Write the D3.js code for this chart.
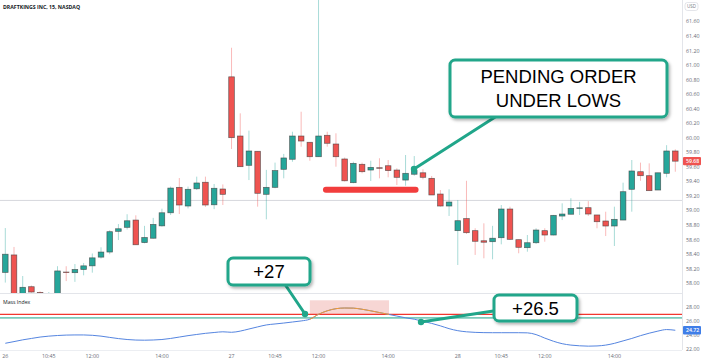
<!DOCTYPE html>
<html>
<head>
<meta charset="utf-8">
<script src="https://cdn.jsdelivr.net/npm/d3@7"></script>
<style>
  body { margin: 0; background: #fff; }
  svg { display: block; font-family: "Open Sans", "Noto Sans", sans-serif; }
</style>
</head>
<body>
<div id="vis"></div>
<script>
const width = 701;
const height = 362;
const plotRight = 682;
const mainBottom = 293;
const massBottom = 350;

// 15 min candles, 26 per session (26, 27, 28)
const opens = [58.15, 58.39, 57.80, 57.953, 57.875, 57.78, 57.80, 58.155, 58.146, 58.19,
  58.24, 58.36, 58.43, 58.715, 58.77, 58.87, 58.56, 58.62, 58.79, 58.97,
  59.32, 59.063, 59.30, 59.39, 59.08, 59.297, 60.84, 60.026, 59.623, 59.816,
  59.224, 59.32, 59.568, 59.706, 60.026, 59.94, 59.741, 60.036, 59.916, 59.71,
  59.384, 59.637, 59.558, 59.59, 59.617, 59.558, 59.42, 59.50, 59.52, 59.444,
  59.228, 59.063, 58.724, 58.89, 58.724, 58.585, 58.572, 58.627, 59.022, 58.60,
  58.49, 58.558, 58.724, 58.664, 58.925, 58.95, 59.035, 59.04, 58.94, 58.857,
  58.788, 58.87, 59.293, 59.535, 59.48, 59.283, 59.513, 59.82];
const highs = [58.76, 58.50, 58.10, 57.97, 57.89, 57.88, 58.235, 58.235, 58.265, 58.28,
  58.41, 58.495, 58.73, 58.815, 58.95, 58.935, 58.79, 58.90, 59.026, 59.33,
  59.448, 59.33, 59.467, 59.467, 59.366, 59.36, 61.24, 60.338, 60.10, 59.816,
  59.56, 59.66, 59.78, 60.085, 60.36, 59.94, 62.0, 60.085, 60.063, 59.73,
  59.672, 59.66, 59.686, 59.72, 59.696, 59.582, 59.765, 59.75, 59.568, 59.476,
  59.283, 59.293, 59.146, 59.41, 58.757, 58.825, 58.79, 59.077, 59.054, 58.60,
  58.664, 58.757, 58.757, 58.94, 59.10, 59.17, 59.12, 59.13, 58.94, 58.985,
  59.054, 59.384, 59.696, 59.66, 59.65, 59.52, 59.90, 59.843];
const lows = [58.01, 57.78, 57.76, 57.87, 57.74, 57.72, 57.78, 58.03, 58.02, 58.11,
  58.146, 58.34, 58.40, 58.595, 58.74, 58.53, 58.55, 58.615, 58.78, 58.94,
  58.953, 59.03, 59.283, 59.05, 59.02, 59.077, 59.847, 59.604, 59.42, 59.054,
  58.88, 59.307, 59.444, 59.672, 59.879, 59.686, 59.741, 59.879, 59.604, 59.40,
  59.376, 59.513, 59.407, 59.444, 59.458, 59.352, 59.342, 59.48, 59.43, 59.215,
  59.054, 58.926, 58.252, 58.678, 58.39, 58.344, 58.33, 58.536, 58.596, 58.413,
  58.435, 58.54, 58.572, 58.66, 58.87, 58.95, 58.94, 58.926, 58.757, 58.65,
  58.513, 58.87, 58.985, 59.41, 59.274, 59.283, 59.458, 59.535];
const closes = [58.40, 57.82, 57.945, 57.88, 57.78, 57.82, 58.17, 58.15, 58.19, 58.24,
  58.35, 58.43, 58.71, 58.75, 58.86, 58.53, 58.63, 58.81, 58.97, 59.31,
  59.077, 59.293, 59.38, 59.077, 59.307, 59.224, 60.003, 59.604, 59.82, 59.238,
  59.32, 59.55, 59.724, 60.026, 59.957, 59.741, 60.026, 59.926, 59.741, 59.41,
  59.65, 59.535, 59.595, 59.585, 59.55, 59.458, 59.513, 59.55, 59.458, 59.215,
  59.063, 59.118, 58.861, 58.696, 58.578, 58.565, 58.62, 59.022, 58.605, 58.495,
  58.558, 58.733, 58.664, 58.935, 58.953, 59.03, 59.038, 58.953, 58.847, 58.788,
  58.88, 59.26, 59.545, 59.48, 59.274, 59.52, 59.82, 59.68];

const massIndex = [22.86, 23.1, 23.35, 23.55, 23.75, 23.88, 23.97, 24.03, 24.05, 24.05,
  24.0, 23.88, 23.7, 23.53, 23.4, 23.32, 23.3, 23.33, 23.4, 23.55,
  23.75, 23.95, 24.12, 24.28, 24.4, 24.5, 24.43, 24.6, 24.9, 25.2,
  25.48, 25.62, 25.75, 25.9, 26.05, 26.3, 27.0, 27.5, 27.8, 27.9,
  27.88, 27.72, 27.5, 27.25, 27.0, 26.75, 26.5, 26.3, 26.0, 25.7,
  25.35, 24.95, 24.66, 24.5, 24.42, 24.38, 24.37, 24.37, 24.37, 24.37,
  24.35, 24.1, 23.6, 23.15, 22.8, 22.6, 22.5, 22.45, 22.48, 22.6,
  22.85, 23.2, 23.55, 23.95, 24.3, 24.6, 24.82, 24.72];

const timeTickIndex = [0, 5, 10, 18, 26, 31, 36, 44, 52, 57, 62, 70];
const timeTickLabels = ['26', '10:45', '12:00', '14:00', '27', '10:45', '12:00', '14:00', '28', '10:45', '12:00', '14:00'];
const priceTicks = [58.0, 58.2, 58.4, 58.6, 58.8, 59.0, 59.2, 59.4, 59.6, 59.8, 60.0, 60.2, 60.4, 60.6, 60.8, 61.0, 61.2, 61.4, 61.6];
const massTicks = [28, 26, 24, 22];
const massLevels = [27, 26.5];
const lastPrice = 59.68;
const lastMass = 24.72;
const priceLine = 59.14;
const supportLevel = 59.287;   // red marker under the lows
const supportRange = [36.85, 47.15];
const highlightRange = [35, 44.1];
const highlightTop = 29;

const up = '#26a69a', down = '#ef5350';
const calloutColor = '#20a68a';

const x = d3.scaleLinear().domain([0, 77]).range([5.3, 675.3]);
const y = d3.scaleLinear().domain([58, 59]).range([283.3, 210.6]);
const ym = d3.scaleLinear().domain([27, 26]).range([314.3, 321.3]);

const svg = d3.select('#vis').append('svg')
  .attr('width', width)
  .attr('height', height);

const defs = svg.append('defs');
defs.append('clipPath').attr('id', 'mainClip')
  .append('rect').attr('x', 0).attr('y', 0).attr('width', plotRight).attr('height', mainBottom);
defs.append('clipPath').attr('id', 'hlClip')
  .append('rect')
  .attr('x', x(highlightRange[0])).attr('y', 294)
  .attr('width', x(highlightRange[1]) - x(highlightRange[0])).attr('height', 60);
const shadow = defs.append('filter').attr('id', 'shadow')
  .attr('x', '-20%').attr('y', '-20%').attr('width', '150%').attr('height', '160%');
shadow.append('feDropShadow')
  .attr('dx', 1.5).attr('dy', 2).attr('stdDeviation', 1.8)
  .attr('flood-color', '#000').attr('flood-opacity', 0.3);

function drawFrame() {
  svg.append('line')
    .attr('x1', 0).attr('x2', plotRight).attr('y1', mainBottom + 0.5).attr('y2', mainBottom + 0.5)
    .attr('stroke', '#e3e5ea');
  svg.append('line')
    .attr('x1', 0).attr('x2', plotRight).attr('y1', massBottom + 0.5).attr('y2', massBottom + 0.5)
    .attr('stroke', '#eceef2');
  svg.append('line')
    .attr('x1', plotRight + 0.5).attr('x2', plotRight + 0.5).attr('y1', 0).attr('y2', massBottom)
    .attr('stroke', '#e3e5ea');
  svg.append('line')
    .attr('x1', 0).attr('x2', plotRight).attr('y1', y(priceLine)).attr('y2', y(priceLine))
    .attr('stroke', '#d6d8dd');
  svg.append('text')
    .attr('x', 3).attr('y', 8.5)
    .attr('font-size', 5.2).attr('font-weight', 700).attr('fill', '#131722')
    .text('DRAFTKINGS INC, 15, NASDAQ');
  svg.append('text')
    .attr('x', 3).attr('y', 304)
    .attr('font-size', 5.2).attr('fill', '#131722')
    .text('Mass Index');
}

function drawCandles() {
  const g = svg.append('g').attr('clip-path', 'url(#mainClip)');
  const idx = d3.range(opens.length);
  g.selectAll('.wick').data(idx).enter().append('line')
    .attr('class', 'wick')
    .attr('x1', i => x(i)).attr('x2', i => x(i))
    .attr('y1', i => y(highs[i])).attr('y2', i => y(lows[i]))
    .attr('stroke', i => closes[i] >= opens[i] ? up : down)
    .attr('stroke-opacity', 0.4)
    .attr('stroke-width', 1);
  g.selectAll('.body').data(idx).enter().append('rect')
    .attr('class', 'body')
    .attr('x', i => x(i) - 2.8)
    .attr('width', 5.6)
    .attr('y', i => y(Math.max(opens[i], closes[i])))
    .attr('height', i => Math.max(0.6, Math.abs(y(opens[i]) - y(closes[i]))))
    .attr('fill', i => closes[i] >= opens[i] ? up : down)
    .attr('stroke', '#3d3d3d')
    .attr('stroke-opacity', 0.75)
    .attr('stroke-width', 0.7);
  // red marker line under the lows
  svg.append('line')
    .attr('x1', x(supportRange[0])).attr('x2', x(supportRange[1]))
    .attr('y1', y(supportLevel)).attr('y2', y(supportLevel))
    .attr('stroke', '#f23d3d').attr('stroke-width', 6).attr('stroke-linecap', 'round');
}

function drawMassIndex() {
  svg.append('rect')
    .attr('x', x(highlightRange[0])).attr('y', ym(highlightTop))
    .attr('width', x(highlightRange[1]) - x(highlightRange[0]))
    .attr('height', ym(massLevels[0]) - ym(highlightTop))
    .attr('fill', '#f7d6d4');
  svg.append('line')
    .attr('x1', 0).attr('x2', plotRight).attr('y1', ym(massLevels[0])).attr('y2', ym(massLevels[0]))
    .attr('stroke', '#f2362f').attr('stroke-width', 1.2);
  svg.append('line')
    .attr('x1', 0).attr('x2', plotRight).attr('y1', ym(massLevels[1])).attr('y2', ym(massLevels[1]))
    .attr('stroke', '#7ccabb').attr('stroke-width', 1.8);
  const line = d3.line()
    .x((d, i) => x(i))
    .y(d => ym(d))
    .curve(d3.curveMonotoneX);
  svg.append('path')
    .attr('d', line(massIndex))
    .attr('fill', 'none').attr('stroke', '#5585e0').attr('stroke-width', 1);
  svg.append('path')
    .attr('d', line(massIndex))
    .attr('clip-path', 'url(#hlClip)')
    .attr('fill', 'none').attr('stroke', '#f59a2e').attr('stroke-width', 1);
}

function drawAxes() {
  const ax = svg.append('g').attr('font-size', 5.3).attr('fill', '#6a6d78');
  ax.selectAll('.pt').data(priceTicks).enter().append('text')
    .attr('x', 686).attr('y', d => y(d)).attr('dy', '0.35em')
    .text(d => d.toFixed(2));
  ax.selectAll('.mt').data(massTicks).enter().append('text')
    .attr('x', 686).attr('y', d => ym(d)).attr('dy', '0.35em')
    .text(d => d.toFixed(2));
  ax.selectAll('.tt').data(timeTickIndex).enter().append('text')
    .attr('x', i => x(i)).attr('y', 357.5)
    .attr('text-anchor', (i, k) => k === 0 ? 'start' : 'middle')
    .attr('dx', (i, k) => k === 0 ? -3 : 0)
    .text((i, k) => timeTickLabels[k]);

  // USD badge
  svg.append('rect')
    .attr('x', 685).attr('y', 2.5).attr('width', 13).attr('height', 8).attr('rx', 2.5)
    .attr('fill', '#fff').attr('stroke', '#d1d4dc').attr('stroke-width', 0.6);
  svg.append('text')
    .attr('x', 691.5).attr('y', 6.5).attr('dy', '0.35em').attr('text-anchor', 'middle')
    .attr('font-size', 4.5).attr('fill', '#787b86').text('USD');

  priceTag(y(lastPrice), lastPrice.toFixed(2), '#ef5350');
  priceTag(ym(lastMass), lastMass.toFixed(2), '#3f7ee8');
}

function priceTag(yy, label, color) {
  svg.append('rect')
    .attr('x', 683).attr('y', yy - 4.2).attr('width', 18).attr('height', 8.4).attr('rx', 1)
    .attr('fill', color);
  svg.append('text')
    .attr('x', 686).attr('y', yy).attr('dy', '0.35em')
    .attr('font-size', 5.2).attr('font-weight', 600).attr('fill', '#fff')
    .text(label);
}

function drawCallout(box, lines, from, to) {
  svg.append('line')
    .attr('x1', from[0]).attr('y1', from[1]).attr('x2', to[0]).attr('y2', to[1])
    .attr('stroke', calloutColor).attr('stroke-width', 3).attr('stroke-linecap', 'round');
  svg.append('circle')
    .attr('cx', to[0]).attr('cy', to[1]).attr('r', 3.2)
    .attr('fill', calloutColor);
  svg.append('rect')
    .attr('x', box.x).attr('y', box.y).attr('width', box.w).attr('height', box.h).attr('rx', 5)
    .attr('fill', '#fff').attr('stroke', calloutColor).attr('stroke-width', 3)
    .attr('filter', 'url(#shadow)');
  const lh = box.h / lines.length;
  svg.selectAll(null).data(lines).enter().append('text')
    .attr('x', box.x + box.w / 2)
    .attr('y', (d, i) => box.y + lh * (i + 0.5) + (lines.length > 1 ? (i === 0 ? 2 : -2) : 0))
    .attr('dy', '0.36em')
    .attr('text-anchor', 'middle')
    .attr('font-family', '"Liberation Sans", Arial, sans-serif')
    .attr('font-size', 18.5).attr('fill', '#000')
    .text(d => d);
}

drawFrame();
drawCandles();
drawMassIndex();
drawAxes();
drawCallout({ x: 450, y: 60, w: 217, h: 57 }, ['PENDING ORDER', 'UNDER LOWS'], [503, 112], [414, 169]);
drawCallout({ x: 228, y: 258, w: 82, h: 27 }, ['+27'], [282, 280], [305, 314]);
drawCallout({ x: 494, y: 295, w: 83, h: 26 }, ['+26.5'], [500, 310], [421, 322]);
</script>
</body>
</html>
